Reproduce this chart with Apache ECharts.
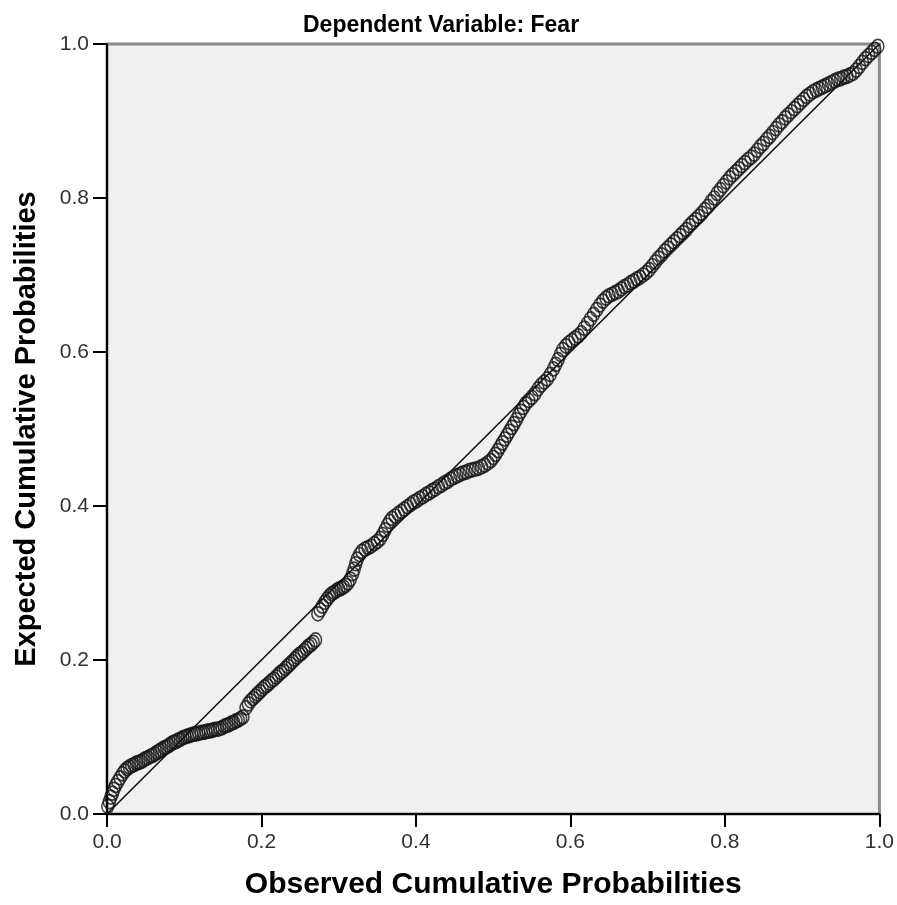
<!DOCTYPE html>
<html>
<head>
  <meta charset="utf-8">
  <title>Normal P-P Plot</title>
  <style>
    html, body { margin: 0; padding: 0; background: #fff; }
    #container { width: 897px; height: 905px; }
  </style>
</head>
<body>
  <div id="container"></div>
  <script src="https://cdn.jsdelivr.net/npm/echarts@6/dist/echarts.min.js"></script>
  <script>
    // [observed, expected] cumulative probabilities

    // lower run, up to the first gap
    var lowRun = [
      [0.001, 0.010], [0.003, 0.016], [0.005, 0.022], [0.007, 0.027], [0.009, 0.032],
      [0.011, 0.037], [0.014, 0.042], [0.017, 0.047], [0.020, 0.052], [0.023, 0.056],
      [0.026, 0.059], [0.029, 0.061], [0.032, 0.063], [0.035, 0.064], [0.038, 0.066],
      [0.041, 0.067], [0.044, 0.068], [0.047, 0.070], [0.050, 0.072], [0.053, 0.073],
      [0.056, 0.075], [0.059, 0.076], [0.062, 0.078], [0.065, 0.080], [0.068, 0.082],
      [0.071, 0.084], [0.074, 0.086], [0.077, 0.087], [0.080, 0.089], [0.083, 0.091],
      [0.086, 0.093], [0.089, 0.094], [0.092, 0.096], [0.095, 0.097], [0.098, 0.099],
      [0.101, 0.100], [0.104, 0.101], [0.107, 0.102], [0.110, 0.103], [0.113, 0.104],
      [0.116, 0.104], [0.119, 0.105], [0.122, 0.106], [0.125, 0.106], [0.128, 0.107],
      [0.131, 0.108], [0.134, 0.108], [0.137, 0.109], [0.140, 0.110], [0.143, 0.110],
      [0.146, 0.111], [0.149, 0.112], [0.152, 0.114], [0.155, 0.115], [0.158, 0.116],
      [0.161, 0.118], [0.164, 0.119], [0.167, 0.121], [0.170, 0.122], [0.173, 0.124],
      [0.176, 0.126]
    ];

    // second run, between the two gaps
    var midRun = [
      [0.180, 0.138], [0.183, 0.143], [0.186, 0.147], [0.189, 0.150], [0.192, 0.153],
      [0.195, 0.156], [0.198, 0.159], [0.201, 0.162], [0.204, 0.165], [0.207, 0.167],
      [0.210, 0.170], [0.213, 0.173], [0.216, 0.175], [0.219, 0.178], [0.222, 0.181],
      [0.225, 0.184], [0.228, 0.186], [0.231, 0.189], [0.234, 0.192], [0.237, 0.195],
      [0.240, 0.198], [0.243, 0.201], [0.246, 0.204], [0.249, 0.207], [0.252, 0.209],
      [0.255, 0.212], [0.258, 0.215], [0.261, 0.218], [0.264, 0.220], [0.267, 0.223],
      [0.270, 0.226]
    ];

    // upper run, from the second gap to the top corner
    var highRun = [
      [0.273, 0.260], [0.276, 0.265], [0.279, 0.270], [0.282, 0.275], [0.285, 0.279],
      [0.288, 0.283], [0.291, 0.286], [0.294, 0.288], [0.297, 0.290], [0.300, 0.292],
      [0.303, 0.293], [0.306, 0.295], [0.309, 0.297], [0.312, 0.300], [0.315, 0.305],
      [0.318, 0.312], [0.320, 0.318], [0.322, 0.325], [0.324, 0.331], [0.327, 0.337],
      [0.330, 0.341], [0.334, 0.344], [0.338, 0.346], [0.342, 0.348], [0.346, 0.351],
      [0.350, 0.354], [0.354, 0.358], [0.357, 0.363], [0.360, 0.369], [0.363, 0.375],
      [0.366, 0.380], [0.369, 0.384], [0.373, 0.387], [0.377, 0.390], [0.381, 0.393],
      [0.385, 0.396], [0.389, 0.399], [0.393, 0.402], [0.397, 0.405], [0.401, 0.407],
      [0.405, 0.410], [0.409, 0.412], [0.413, 0.415], [0.417, 0.417], [0.421, 0.420],
      [0.425, 0.422], [0.429, 0.425], [0.433, 0.427], [0.437, 0.430], [0.441, 0.432],
      [0.445, 0.435], [0.449, 0.437], [0.453, 0.439], [0.457, 0.441], [0.461, 0.443],
      [0.465, 0.444], [0.469, 0.446], [0.473, 0.447], [0.477, 0.448], [0.481, 0.449],
      [0.485, 0.451], [0.489, 0.453], [0.493, 0.456], [0.497, 0.459], [0.500, 0.463],
      [0.503, 0.467], [0.506, 0.472], [0.509, 0.477], [0.512, 0.482], [0.515, 0.487],
      [0.518, 0.492], [0.521, 0.497], [0.524, 0.502], [0.527, 0.507], [0.530, 0.512],
      [0.533, 0.518], [0.536, 0.523], [0.539, 0.528], [0.542, 0.533], [0.546, 0.537],
      [0.550, 0.541], [0.554, 0.546], [0.558, 0.552], [0.562, 0.557], [0.566, 0.561],
      [0.570, 0.565], [0.574, 0.571], [0.578, 0.578], [0.581, 0.584], [0.584, 0.590],
      [0.587, 0.597], [0.590, 0.603], [0.594, 0.608], [0.598, 0.612], [0.602, 0.615],
      [0.606, 0.618], [0.610, 0.621], [0.614, 0.625], [0.618, 0.631], [0.622, 0.637],
      [0.626, 0.643], [0.630, 0.649], [0.634, 0.655], [0.638, 0.661], [0.642, 0.666],
      [0.646, 0.670], [0.650, 0.673], [0.654, 0.675], [0.658, 0.677], [0.662, 0.679],
      [0.666, 0.682], [0.670, 0.685], [0.674, 0.687], [0.678, 0.690], [0.682, 0.692],
      [0.686, 0.695], [0.690, 0.697], [0.694, 0.700], [0.698, 0.703], [0.702, 0.707],
      [0.706, 0.712], [0.710, 0.717], [0.714, 0.722], [0.718, 0.726], [0.722, 0.731],
      [0.726, 0.735], [0.730, 0.739], [0.734, 0.743], [0.738, 0.747], [0.742, 0.751],
      [0.746, 0.755], [0.750, 0.759], [0.754, 0.764], [0.758, 0.768], [0.762, 0.772],
      [0.766, 0.776], [0.770, 0.780], [0.774, 0.785], [0.778, 0.789], [0.782, 0.795],
      [0.786, 0.800], [0.790, 0.806], [0.794, 0.811], [0.798, 0.816], [0.802, 0.821],
      [0.806, 0.826], [0.810, 0.830], [0.814, 0.834], [0.818, 0.838], [0.822, 0.842],
      [0.826, 0.846], [0.830, 0.850], [0.834, 0.853], [0.838, 0.857], [0.842, 0.862],
      [0.846, 0.867], [0.850, 0.871], [0.854, 0.876], [0.858, 0.880], [0.862, 0.885],
      [0.866, 0.890], [0.870, 0.895], [0.874, 0.899], [0.878, 0.904], [0.882, 0.908],
      [0.886, 0.912], [0.890, 0.916], [0.894, 0.920], [0.898, 0.924], [0.902, 0.928],
      [0.906, 0.932], [0.910, 0.935], [0.914, 0.938], [0.918, 0.940], [0.922, 0.942],
      [0.926, 0.944], [0.930, 0.946], [0.934, 0.948], [0.938, 0.950], [0.942, 0.952],
      [0.946, 0.954], [0.950, 0.955], [0.954, 0.957], [0.958, 0.958], [0.962, 0.960],
      [0.966, 0.962], [0.970, 0.966], [0.974, 0.971], [0.978, 0.976], [0.982, 0.981],
      [0.986, 0.985], [0.990, 0.989], [0.994, 0.993], [0.998, 0.997]
    ];

    var refLine = [[0, 0], [1, 1]];
    var tickLabels = ['0.0', '0.2', '0.4', '0.6', '0.8', '1.0'];

    var points = lowRun.concat(midRun, highRun);

    var dom = document.getElementById("container");
    var myChart = echarts.init(dom, null, {renderer: 'canvas'});
    var font = 'Liberation Sans, Arial, sans-serif';

    function tickFmt(v) {
      return tickLabels[Math.round(v * 5)];
    }

    var option = {
      backgroundColor: '#ffffff',
      animation: false,
      title: {
        text: 'Dependent Variable: Fear',
        left: 298,
        top: 9,
        textStyle: {fontFamily: font, fontSize: 23, fontWeight: 'bold', color: '#000'}
      },
      grid: {
        left: 107, right: 17, top: 44, bottom: 88,
        show: true,
        backgroundColor: '#f0f0f0',
        borderColor: '#8a8a8a',
        borderWidth: 3
      },
      xAxis: {
        type: 'value',
        min: 0, max: 1, interval: 0.2,
        name: 'Observed Cumulative Probabilities',
        nameLocation: 'middle',
        nameGap: 56,
        nameTextStyle: {fontFamily: font, fontSize: 30, fontWeight: 'bold', color: '#000'},
        axisLine: {lineStyle: {color: '#000', width: 2}},
        axisTick: {show: true, length: 13, lineStyle: {color: '#000', width: 2}},
        axisLabel: {formatter: tickFmt, margin: 18, fontFamily: font, fontSize: 21, color: '#333'},
        splitLine: {show: false}
      },
      yAxis: {
        type: 'value',
        min: 0, max: 1, interval: 0.2,
        name: 'Expected Cumulative Probabilities',
        nameLocation: 'middle',
        nameGap: 66,
        nameTextStyle: {fontFamily: font, fontSize: 29, fontWeight: 'bold', color: '#000'},
        axisLine: {lineStyle: {color: '#000', width: 2}},
        axisTick: {show: true, length: 14, lineStyle: {color: '#000', width: 2}},
        axisLabel: {formatter: tickFmt, margin: 18, fontFamily: font, fontSize: 21, color: '#333'},
        splitLine: {show: false}
      },
      series: [
        {
          type: 'scatter',
          data: points,
          // slightly tall open rings, as in the source image
          symbol: 'path://M0,-1A1,1,0,1,1,0,1A1,1,0,1,1,0,-1Z',
          symbolSize: [12, 14],
          itemStyle: {color: 'rgba(0,0,0,0)', borderColor: '#141414', borderWidth: 1.6},
          z: 2
        },
        {
          type: 'line',
          data: refLine,
          symbol: 'none',
          lineStyle: {color: '#111', width: 1.6},
          z: 3
        }
      ]
    };

    if (option && typeof option === "object") {
      myChart.setOption(option, true);
    }
  </script>
</body>
</html>
